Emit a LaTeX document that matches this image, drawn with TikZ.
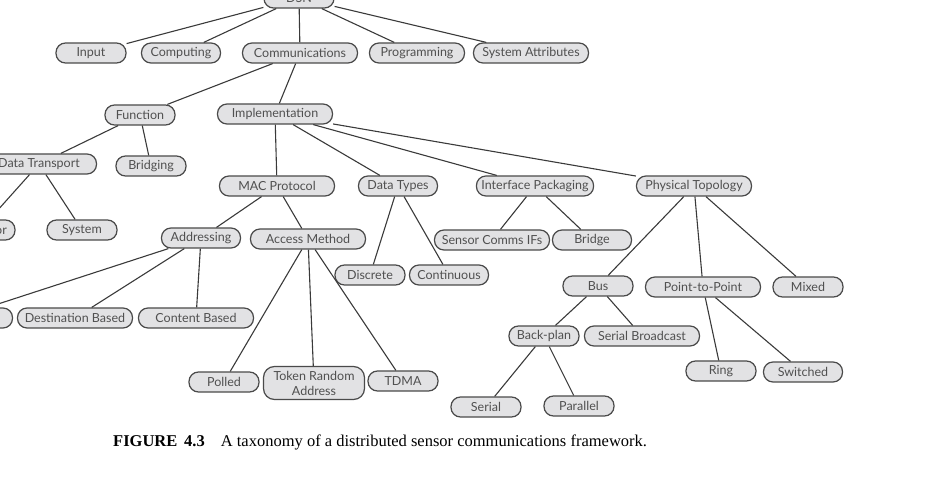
\documentclass[tikz,border=0pt]{standalone}
\usepackage{fontspec}
\setmainfont{Liberation Serif}
\newfontfamily\labfont{Lato}
\definecolor{boxfill}{HTML}{E2E2E4}
\definecolor{boxline}{HTML}{4A4A4A}
\definecolor{edgecol}{HTML}{3A3A3A}
\definecolor{txtcol}{HTML}{505050}
\tikzset{
  box/.style={draw=boxline, fill=boxfill, rounded corners=9.5pt, line width=1.2pt,
    minimum height=20pt, inner xsep=5pt, inner ysep=1pt, text=txtcol,
    font=\labfont\fontsize{12.5}{15}\selectfont, anchor=center},
  wS/.style={box, minimum width=70pt},
  wM/.style={box, minimum width=79pt},
  wP/.style={box, minimum width=95pt},
  wL/.style={box, minimum width=115pt},
  link/.style={draw=edgecol, line width=1.1pt},
}
\begin{document}
\begin{tikzpicture}[x=1pt,y=-1pt]
\useasboundingbox (0,0) rectangle (932,478);
\clip (0,0) rectangle (932,478);
% nodes
\node[wS] (dsn) at (299,-2) {DSN};
\node[wS] (input) at (91,53) {Input};
\node[wM] (computing) at (181,53) {Computing};
\node[wL] (comm) at (300,53) {Communications};
\node[wP] (prog) at (417,53) {Programming};
\node[wL] (sysattr) at (531,53) {System Attributes};
\node[wS] (function) at (140,115) {Function};
\node[wL] (impl) at (275,114) {Implementation};
\node[wL] (dtrans) at (39,164) {Data Transport};
\node[wS] (bridging) at (151,166) {Bridging};
\node[wL] (mac) at (277,186) {MAC Protocol};
\node[wM] (dtypes) at (398,186) {Data Types};
\node[wL] (ifpack) at (535,186) {Interface Packaging};
\node[wL] (phys) at (694,186) {Physical Topology};
\node[wS] (proc) at (-20,230) {Processor};
\node[wS] (system) at (82,230) {System};
\node[wM] (addr) at (201,238) {Addressing};
\node[wL] (access) at (308,239) {Access Method};
\node[wL] (scif) at (492,240) {Sensor Comms IFs};
\node[wM] (bridge) at (592,240) {Bridge};
\node[wS] (discrete) at (370,275) {Discrete};
\node[wM] (contin) at (449,275) {Continuous};
\node[wS] (bus) at (598,286) {Bus};
\node[wL] (p2p) at (703,287) {Point-to-Point};
\node[wS] (mixed) at (808,287) {Mixed};
\node[wL] (source) at (-45,318) {};
\node[wL] (destb) at (75,318) {Destination Based};
\node[wL] (contb) at (196,318) {Content Based};
\node[wS] (backplan) at (544,336) {Back-plan};
\node[wL] (serialb) at (642,336) {Serial Broadcast};
\node[wS] (ring) at (721,371) {Ring};
\node[wM] (switched) at (803,372) {Switched};
\node[wS] (serial) at (486,407) {Serial};
\node[wS] (parallel) at (579,406) {Parallel};
\node[wS] (polled) at (224,382) {Polled};
\node[box, minimum width=101pt, minimum height=33pt, align=center, rounded corners=11pt] (token) at (314,383) {Token Random\\Address};
\node[wS] (tdma) at (403,381) {TDMA};
% connectors
\path[link]
  (dsn) -- (input) (dsn) -- (computing) (dsn) -- (comm) (dsn) -- (prog) (dsn) -- (sysattr)
  (comm) -- (function) (comm) -- (impl)
  (function) -- (dtrans) (function) -- (bridging)
  (dtrans) -- (proc) (dtrans) -- (system)
  (impl) -- (mac) (impl) -- (dtypes) (impl) -- (ifpack) (impl) -- (phys)
  (mac) -- (addr) (mac) -- (access)
  (addr) -- (source) (addr) -- (destb) (addr) -- (contb)
  (access) -- (polled) (access) -- (token) (access) -- (tdma)
  (dtypes) -- (discrete) (dtypes) -- (contin)
  (ifpack) -- (scif) (ifpack) -- (bridge)
  (phys) -- (bus) (phys) -- (p2p) (phys) -- (mixed)
  (bus) -- (backplan) (bus) -- (serialb)
  (backplan) -- (serial) (backplan) -- (parallel)
  (p2p) -- (ring) (p2p) -- (switched);
% caption
\node[anchor=base west, inner sep=0pt, font=\fontsize{16.5}{19}\selectfont] (cap) at (113,446)
  {\textbf{FIGURE\, 4.3}\hspace{16pt}A taxonomy of a distributed sensor communications framework.};
\end{tikzpicture}
\end{document}
